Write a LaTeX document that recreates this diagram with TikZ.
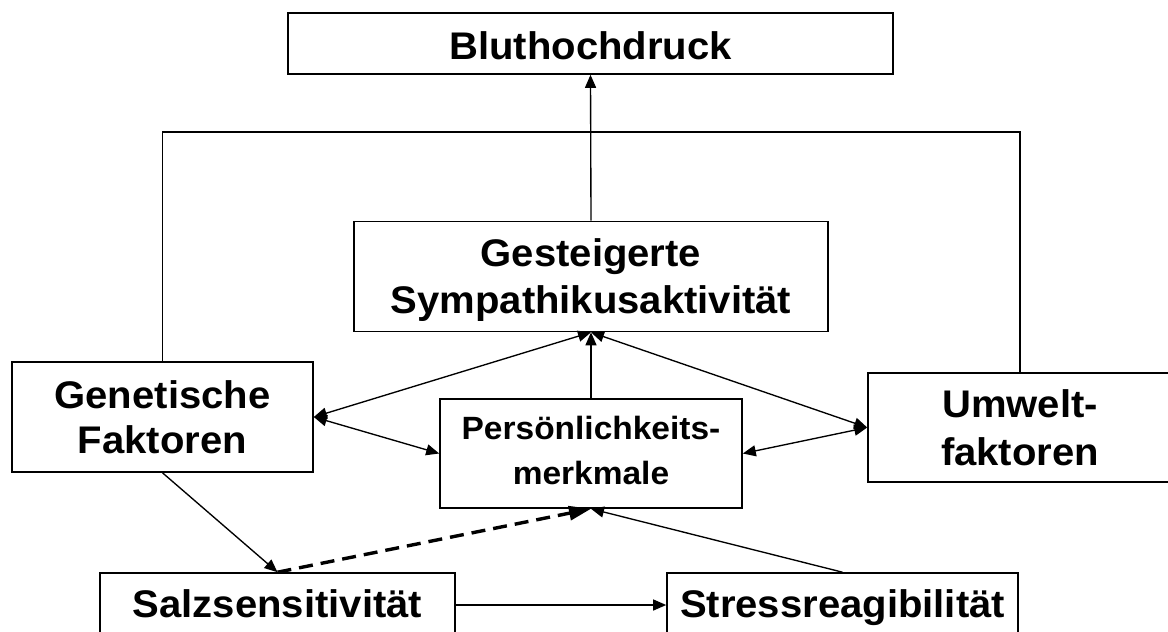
\documentclass[tikz,border=0pt]{standalone}
\usepackage{fontspec}
\setmainfont{Liberation Sans}[FakeStretch=1.04]
\usetikzlibrary{arrows.meta}
\newcommand{\mydepth}[1]{\rule[-#1]{0pt}{#1}}
\begin{document}
\begin{tikzpicture}[x=1pt,y=-1pt,
  box/.style={draw=black, line width=1.6pt, inner sep=0pt, align=center,
    font=\bfseries\fontsize{38.5}{47}\selectfont},
  onebox/.style={box, text height=27pt},
  smallbox/.style={box, font=\bfseries\fontsize{32.2}{45}\selectfont},
  conn/.style={line width=1.35pt},
  tip/.tip={Triangle[length=13pt,width=11pt]},
  arr/.style={conn, -tip},
  darr/.style={conn, tip-tip},
  dasharr/.style={line width=3.4pt, dash pattern=on 14pt off 8pt,
    -{Triangle[length=22pt,width=14pt]}}
]
\useasboundingbox (0,0) rectangle (1168,632);

\node[box, text height=31pt, text depth=0pt, minimum width=605pt, minimum height=61pt] (blut) at (590.5,43.5) {Bluthochdruck};
\node[box, minimum width=474pt, minimum height=110pt] (ges) at (591,276.5) {Gesteigerte\\\smash{Sympathikusaktivität}};
\node[box, font=\bfseries\fontsize{38.5}{45}\selectfont, minimum width=301pt, minimum height=110pt] (gen) at (162.5,417) {Genetische\\Faktoren};
\node[smallbox, minimum width=302pt, minimum height=109pt] (pers) at (591,453.5) {Persönlichkeits-\\merkmale\mydepth{7pt}};
\node[box, font=\bfseries\fontsize{38.5}{48}\selectfont, minimum width=304pt, minimum height=109pt] (umw) at (1020,427.5) {Umwelt-\\faktoren};
\node[onebox, text depth=3pt, minimum width=355pt, minimum height=64pt] (salz) at (277.5,605) {Salzsensitivität};
\node[onebox, text depth=3pt, minimum width=351pt, minimum height=64pt] (stress) at (842.5,605) {Stressreagibilität};

\coordinate (top) at (591,132);

% frame
\draw[conn] (gen.north) |- (top) -| (umw.north);
\draw[arr] (ges.north) -- (blut.south);

% arrows into Gesteigerte
\draw[darr] (gen.east) -- (ges.south);
\draw[darr] (umw.west) -- (ges.south);
\draw[arr] (pers.north) -- (ges.south);

% Persoenlichkeit links
\draw[darr] (gen.east) -- (pers.west);
\draw[darr] (pers.east) -- (umw.west);

% lower
\draw[arr] (gen.south) -- (salz.north);
\draw[dasharr] (salz.north) -- (pers.south);
\draw[arr] (stress.north) -- (pers.south);
\draw[arr] (salz.east) -- (stress.west);
\end{tikzpicture}
\end{document}
